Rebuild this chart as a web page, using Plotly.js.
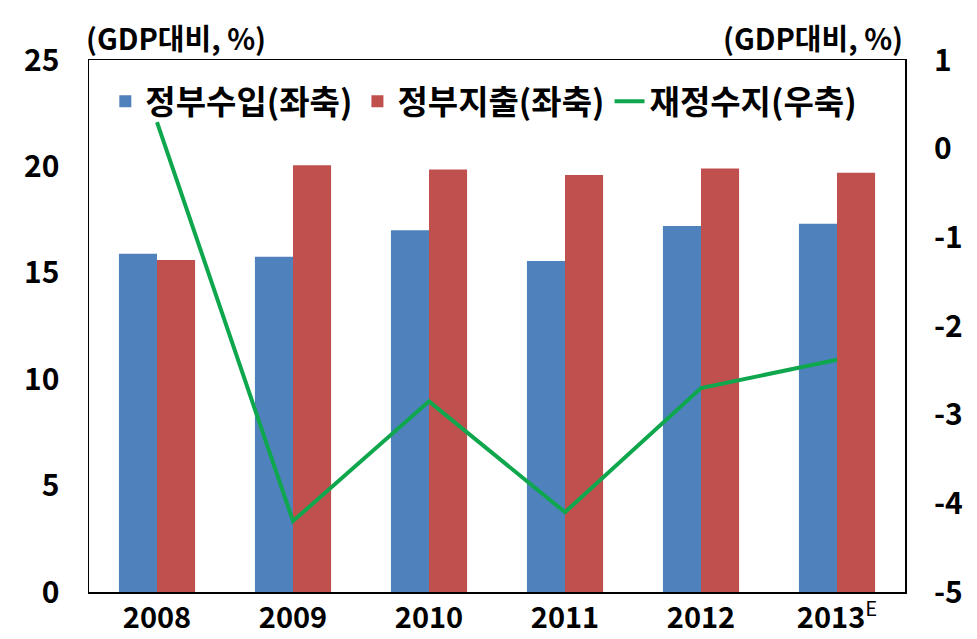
<!DOCTYPE html>
<html>
<head>
<meta charset="utf-8">
<script src="https://cdn.plot.ly/plotly-3.0.1.min.js"></script>
<style>html,body{margin:0;padding:0;background:#fff;}#chart{width:977px;height:639px;}</style>
</head>
<body>
<div id="chart"></div>
<script>
var years = ['2008', '2009', '2010', '2011', '2012', '2013'];
var yearLabels = ['2008', '2009', '2010', '2011', '2012', '2013<sup style="font-weight:normal">E</sup>'];
var revenue = [15.9, 15.75, 17.0, 15.55, 17.2, 17.3];
var expenditure = [15.6, 20.05, 19.85, 19.6, 19.9, 19.7];
var balance = [0.3, -4.2, -2.85, -4.1, -2.7, -2.38];
var seriesNames = ['정부수입(좌축)', '정부지출(좌축)', '재정수지(우축)'];
var leftTicks = [0, 5, 10, 15, 20, 25];
var rightTicks = [-5, -4, -3, -2, -1, 0, 1];
var rightTickLabels = ['-5', '-4', '-3', '-2', '-1', '0', '1'];
var unitLabel = '(GDP대비, %)';

var FONT = '"Noto Sans CJK KR", "Noto Sans", sans-serif';

var traces = [
  {type: 'bar', x: years, y: revenue, name: seriesNames[0], marker: {color: '#4F81BD'}, yaxis: 'y'},
  {type: 'bar', x: years, y: expenditure, name: seriesNames[1], marker: {color: '#C0504D'}, yaxis: 'y'},
  {type: 'scatter', mode: 'lines', x: years, y: balance, name: seriesNames[2], line: {color: '#0FA74E', width: 4}, yaxis: 'y2'}
];

var layout = {
  width: 977, height: 639,
  margin: {l: 89, r: 72, t: 60, b: 47},
  paper_bgcolor: '#fff', plot_bgcolor: '#fff',
  font: {family: FONT, color: '#000', size: 26, weight: 'bold'},
  barmode: 'group', bargap: 0.44, bargroupgap: 0,
  showlegend: true,
  legend: {orientation: 'h', x: 0.02, y: 0.975, xanchor: 'left', yanchor: 'top',
           bgcolor: 'rgba(0,0,0,0)', font: {size: 33, family: FONT, weight: 'bold'},
           itemwidth: 30, traceorder: 'normal'},
  xaxis: {type: 'category', tickvals: years, ticktext: yearLabels,
          showline: true, linecolor: '#000', linewidth: 1.5, mirror: true,
          ticks: '', showgrid: false, zeroline: false, ticklabelstandoff: 0,
          tickfont: {size: 29, family: FONT, weight: 'bold'}},
  yaxis: {range: [0, 25], tickvals: leftTicks, showline: true, linecolor: '#000', linewidth: 1.5, mirror: true,
          ticks: '', showgrid: false, zeroline: false, ticklabelstandoff: 22,
          tickfont: {size: 30, family: FONT, weight: 'bold'}},
  yaxis2: {range: [-5, 1], tickvals: rightTicks, ticktext: rightTickLabels, overlaying: 'y', side: 'right', showline: false,
           ticks: '', showgrid: false, zeroline: false, ticklabelstandoff: 28,
           tickfont: {size: 30, family: FONT, weight: 'bold'}},
  annotations: [
    {text: unitLabel, xref: 'paper', yref: 'paper', x: 0, y: 1, xanchor: 'left', yanchor: 'bottom', xshift: -5,
     showarrow: false, font: {size: 29, family: FONT, weight: 'bold'}},
    {text: unitLabel, xref: 'paper', yref: 'paper', x: 1, y: 1, xanchor: 'right', yanchor: 'bottom', xshift: 0,
     showarrow: false, font: {size: 29, family: FONT, weight: 'bold'}}
  ]
};

Plotly.newPlot('chart', traces, layout, {displayModeBar: false, staticPlot: true});
</script>
</body>
</html>
